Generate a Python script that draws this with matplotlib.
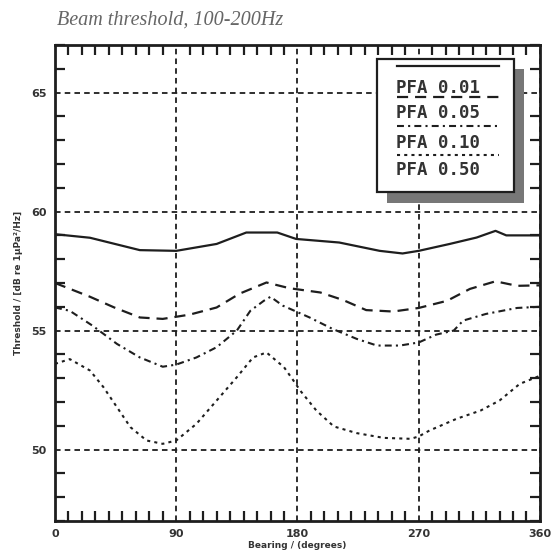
import numpy as np
import matplotlib
matplotlib.use("Agg")
import matplotlib.pyplot as plt
from matplotlib.lines import Line2D
from matplotlib.patches import Rectangle
from matplotlib.ticker import MultipleLocator

plt.rcParams['lines.scale_dashes'] = False

# bearing (degrees) and threshold (dB)
bear_001 = [0, 26, 63, 90, 120, 142, 165, 179, 211, 241, 258, 270, 293, 313, 327, 335, 360]
thr_001 = [59.05, 58.9, 58.38, 58.35, 58.64, 59.12, 59.12, 58.85, 58.7, 58.35, 58.24, 58.35, 58.64, 58.91, 59.19, 59.0, 59.0]

bear_005 = [0, 26, 44, 63, 80, 100, 120, 137, 157, 174, 197, 214, 231, 251, 270, 291, 308, 327, 343, 360]
thr_005 = [57.0, 56.42, 55.97, 55.55, 55.49, 55.67, 55.97, 56.55, 57.02, 56.78, 56.6, 56.28, 55.86, 55.8, 55.95, 56.25, 56.75, 57.07, 56.88, 56.9]

bear_010 = [0, 11, 28, 46, 63, 80, 90, 105, 120, 135, 145, 155, 160, 169, 179, 189, 206, 224, 239, 256, 270, 283, 296, 303, 320, 343, 360]
thr_010 = [55.97, 55.83, 55.2, 54.44, 53.87, 53.48, 53.57, 53.87, 54.3, 55.0, 55.83, 56.25, 56.42, 56.05, 55.8, 55.55, 55.07, 54.65, 54.37, 54.37, 54.5, 54.83, 55.0, 55.42, 55.7, 55.95, 56.0]

bear_050 = [0, 11, 26, 36, 46, 56, 68, 80, 90, 105, 120, 135, 147, 157, 170, 177, 182, 194, 207, 224, 244, 264, 270, 278, 298, 316, 330, 345, 360]
thr_050 = [53.6, 53.8, 53.32, 52.62, 51.78, 50.94, 50.38, 50.24, 50.38, 51.08, 52.06, 53.04, 53.87, 54.08, 53.46, 52.9, 52.48, 51.64, 50.97, 50.69, 50.49, 50.45, 50.55, 50.8, 51.29, 51.64, 52.06, 52.76, 53.1]

pfa_labels = ['PFA 0.01', 'PFA 0.05', 'PFA 0.10', 'PFA 0.50']
x_ticks = [0, 90, 180, 270, 360]
y_ticks = [50, 55, 60, 65]

ink = '#1e1e1e'
styles = [dict(ls='-', lw=1.6),
          dict(ls=(0, (8, 5)), lw=1.6),
          dict(ls=(0, (5, 3, 1.5, 3)), lw=1.5),
          dict(ls=(0, (2.2, 3)), lw=1.5)]

fig = plt.figure(figsize=(5.52, 5.53), dpi=100)
ax = fig.add_axes([0.0996, 0.058, 0.8786, 0.8606])

series = [(bear_001, thr_001), (bear_005, thr_005), (bear_010, thr_010), (bear_050, thr_050)]
for (bx, ty), st in zip(series, styles):
    ax.plot(bx, ty, color=ink, **st)

ax.set_xlim(0, 360)
ax.set_ylim(47, 67)
ax.set_xticks(x_ticks)
ax.set_yticks(y_ticks)
ax.set_xticklabels([str(v) for v in x_ticks], fontsize=8, fontweight='bold', color='#333')
ax.set_yticklabels([str(v) for v in y_ticks], fontsize=8, fontweight='bold', color='#333')
ax.xaxis.set_minor_locator(MultipleLocator(10))
ax.yaxis.set_minor_locator(MultipleLocator(1))
ax.tick_params(which='major', length=0, pad=6)
ax.tick_params(which='minor', direction='in', length=7, width=1.6, color=ink,
               top=True, bottom=True, left=True, right=True)
ax.grid(True, which='major', color=ink, ls=(0, (4, 3)), lw=1.3)
for sp in ax.spines.values():
    sp.set_linewidth(2)
    sp.set_color(ink)

ax.set_xlabel('Bearing / (degrees)', fontsize=6.5, fontweight='bold', color='#333', labelpad=1)
ax.set_ylabel('Threshold / [dB re 1μPa²/Hz]', fontsize=6.5, fontweight='bold', color='#333', labelpad=6)

fig.text(0.104, 0.963, 'Beam threshold, 100-200Hz', family='Liberation Serif',
         style='italic', fontsize=14.5, color='#666', va='center', ha='left')

# legend box with drop shadow, sample line drawn above each label
bx0, by0, bw, bh = 0.664, 0.691, 0.282, 0.28
ax.add_patch(Rectangle((bx0 + 0.021, by0 - 0.022), bw, bh, transform=ax.transAxes,
                       facecolor='#777', edgecolor='none', zorder=5, clip_on=False))
ax.add_patch(Rectangle((bx0, by0), bw, bh, transform=ax.transAxes,
                       facecolor='white', edgecolor=ink, lw=1.6, zorder=6, clip_on=False))
line_y = [0.9565, 0.890, 0.830, 0.769]
text_y = [0.910, 0.857, 0.795, 0.737]
for i, lab in enumerate(pfa_labels):
    ax.add_line(Line2D([0.706, 0.915], [line_y[i], line_y[i]], transform=ax.transAxes,
                       color=ink, zorder=7, **styles[i]))
    ax.text(0.704, text_y[i], lab, transform=ax.transAxes, family='DejaVu Sans Mono',
            fontweight='bold', fontsize=12.5, color='#333', va='center', ha='left', zorder=7)

fig.savefig('out.png', dpi=100)
